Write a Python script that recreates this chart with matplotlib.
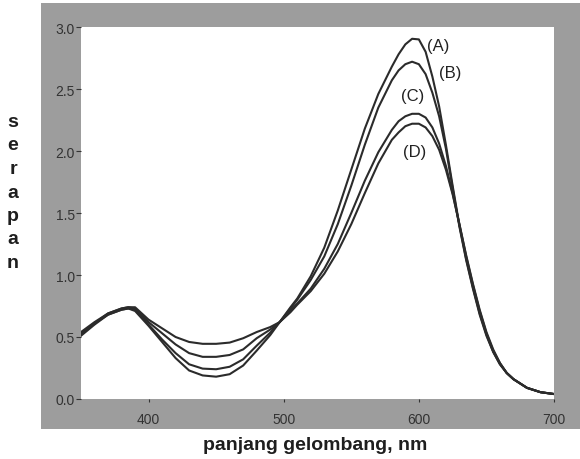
import matplotlib
matplotlib.use("Agg")
import matplotlib.pyplot as plt
from matplotlib.patches import Rectangle

# ---- data ----
wavelength = [350, 360, 370, 380, 385, 390, 400, 410, 420, 430, 440, 450, 460, 470,
              480, 490, 497, 505, 510, 520, 530, 540, 550, 560, 570, 580, 585, 590,
              595, 600, 605, 610, 615, 620, 625, 630, 635, 640, 645, 650, 655, 660,
              665, 670, 680, 690, 700]

serapan_A = [0.51, 0.60, 0.68, 0.72, 0.73, 0.71, 0.59, 0.46, 0.33, 0.23, 0.19, 0.18, 0.20, 0.27,
             0.39, 0.515, 0.62, 0.74, 0.81, 0.99, 1.22, 1.52, 1.85, 2.18, 2.46, 2.68, 2.78, 2.86,
             2.905, 2.90, 2.80, 2.60, 2.36, 2.05, 1.72, 1.40, 1.13, 0.90, 0.69, 0.52, 0.38, 0.28,
             0.21, 0.16, 0.09, 0.055, 0.04]
serapan_B = [0.52, 0.61, 0.68, 0.72, 0.73, 0.72, 0.60, 0.48, 0.37, 0.28, 0.245, 0.24, 0.26, 0.32,
             0.43, 0.535, 0.62, 0.73, 0.80, 0.96, 1.15, 1.41, 1.72, 2.05, 2.35, 2.57, 2.65, 2.70,
             2.72, 2.70, 2.62, 2.47, 2.28, 2.02, 1.70, 1.39, 1.12, 0.89, 0.68, 0.51, 0.38, 0.28,
             0.21, 0.16, 0.09, 0.055, 0.04]
serapan_C = [0.53, 0.61, 0.69, 0.73, 0.74, 0.73, 0.62, 0.53, 0.44, 0.37, 0.34, 0.34, 0.355, 0.40,
             0.49, 0.56, 0.62, 0.715, 0.77, 0.89, 1.05, 1.25, 1.50, 1.76, 1.99, 2.17, 2.24, 2.28,
             2.30, 2.30, 2.27, 2.19, 2.06, 1.88, 1.66, 1.41, 1.15, 0.92, 0.71, 0.53, 0.39, 0.29,
             0.21, 0.16, 0.09, 0.055, 0.04]
serapan_D = [0.54, 0.62, 0.69, 0.73, 0.74, 0.74, 0.64, 0.57, 0.50, 0.46, 0.445, 0.445, 0.455, 0.49,
             0.54, 0.58, 0.62, 0.70, 0.76, 0.87, 1.01, 1.19, 1.41, 1.66, 1.90, 2.09, 2.15, 2.20,
             2.22, 2.22, 2.19, 2.12, 2.01, 1.85, 1.65, 1.41, 1.16, 0.93, 0.72, 0.54, 0.40, 0.29,
             0.21, 0.16, 0.09, 0.055, 0.04]

series_labels = ["(A)", "(B)", "(C)", "(D)"]
label_wl = [614, 623.5, 595.5, 597]
label_val = [2.85, 2.63, 2.45, 2.0]

x_ticks = [400, 500, 600, 700]
y_ticks = [0.0, 0.5, 1.0, 1.5, 2.0, 2.5, 3.0]
y_ticklabels = ["0.0", "0.5", "1.0", "1.5", "2.0", "2.5", "3.0"]

# ---- figure ----
W, H = 580, 460
fig = plt.figure(figsize=(W / 100, H / 100), dpi=100)
fig.patch.set_facecolor("white")

# grey halftone frame (background axes)
bg = fig.add_axes([41 / W, 1 - 430 / H, 539 / W, 426 / H], zorder=0)
bg.set_facecolor("#9d9d9d")
bg.set_xticks([])
bg.set_yticks([])
for s in bg.spines.values():
    s.set_visible(False)

ax = fig.add_axes([81 / W, 1 - 400 / H, 473 / W, 372 / H], zorder=2)
ax.set_facecolor("white")
for s in ax.spines.values():
    s.set_visible(False)

line_color = "#2b2b2b"
for vals in (serapan_A, serapan_B, serapan_C, serapan_D):
    ax.plot(wavelength, vals, color=line_color, linewidth=1.5, solid_joinstyle="round")

for lab, lx, ly in zip(series_labels, label_wl, label_val):
    ax.text(lx, ly, lab, fontsize=12, color="#222222", ha="center", va="center",
            family="Liberation Sans")

ax.set_xlim(350, 700)
ax.set_ylim(0.0, 3.0)
ax.set_xticks(x_ticks)
ax.set_xticklabels([str(v) for v in x_ticks])
ax.set_yticks(y_ticks)
ax.set_yticklabels(y_ticklabels)
ax.tick_params(axis="x", direction="out", length=2.5, width=0.8, pad=7,
               colors="#333333", labelsize=10)
ax.tick_params(axis="y", direction="out", length=3.5, width=0.8, pad=1,
               colors="#333333", labelsize=10)
for t in ax.get_xticklabels() + ax.get_yticklabels():
    t.set_family("Liberation Sans")

fig.text(315 / W, 1 - 446 / H, "panjang gelombang, nm", ha="center", va="center",
         fontsize=14, fontweight="bold", color="#1e1e1e", family="Liberation Sans")
fig.text(13 / W, 1 - 193 / H, "\n".join("serapan"), ha="center", va="center",
         fontsize=14, fontweight="bold", color="#1e1e1e", family="Liberation Sans",
         linespacing=1.5)

fig.savefig("out.png", dpi=100, facecolor="white")
